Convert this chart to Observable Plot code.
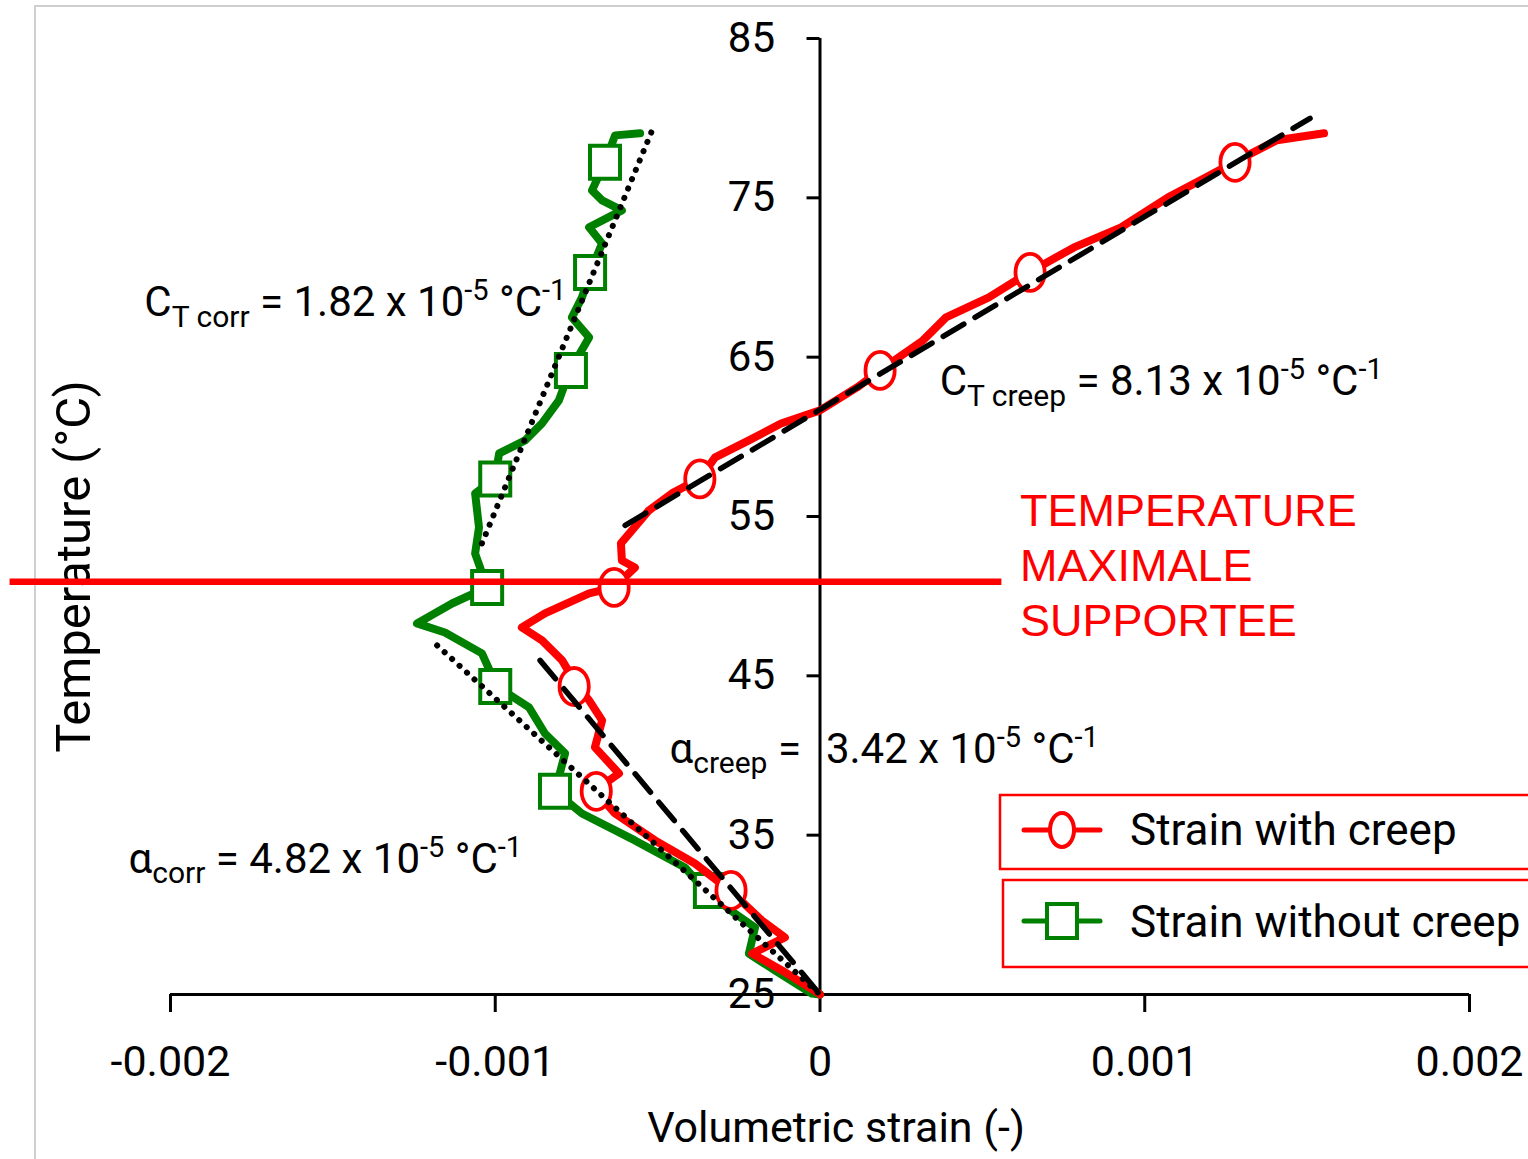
<!DOCTYPE html>
<html><head><meta charset="utf-8">
<script src="https://cdn.jsdelivr.net/npm/d3@7"></script>
<script src="https://cdn.jsdelivr.net/npm/@observablehq/plot@0.6"></script>
<style>
body{margin:0;background:#fff;}
#wrap{position:relative;width:1528px;height:1159px;overflow:hidden;}
#frame{position:absolute;left:34px;top:5px;width:1600px;height:1300px;border-left:2px solid #cfcfcf;border-top:2px solid #cfcfcf;}
#wrap svg{position:absolute;left:0;top:0;}
</style></head><body><div id="wrap"><div id="frame"></div></div>
<script>
const FONT = "Roboto, 'DejaVu Sans Condensed', sans-serif";
const RED = "#ff0000", GREEN = "#008000";

// axes
const xTicks = [-0.002, -0.001, 0, 0.001, 0.002];
const xTickLabels = ["-0.002", "-0.001", "0", "0.001", "0.002"];
const yTicks = [25, 35, 45, 55, 65, 75, 85];
const xTitle = "Volumetric strain (-)";
const yTitle = "Temperature (°C)";
const seriesNames = ["Strain with creep", "Strain without creep"];

// Strain without creep (green)
const greenStrain = [0, -0.000025, -0.000139, -0.000219, -0.000200, -0.000262, -0.000354, -0.000416, -0.000570, -0.000733,
  -0.000816, -0.000785, -0.000847, -0.000896, -0.000995, -0.001041, -0.001155, -0.001241, -0.001133, -0.001025,
  -0.001062, -0.001050, -0.001062, -0.001001, -0.000988, -0.000908, -0.000856, -0.000804, -0.000770, -0.000711,
  -0.000764, -0.000733, -0.000708, -0.000671, -0.000711, -0.000610, -0.000671, -0.000702, -0.000662, -0.000631, -0.000554];
const greenTemp = [25, 25.06, 26.51, 27.57, 29.21, 30.08, 31.53, 32.97, 34.67, 36.36,
  37.75, 40.13, 41.38, 43.02, 44.33, 46.41, 47.72, 48.29, 49.54, 50.55,
  52.68, 54.32, 56.45, 57.39, 58.96, 59.78, 60.84, 62.29, 64.17, 66.24,
  67.50, 68.75, 70.32, 72.14, 73.15, 74.21, 74.84, 75.47, 77.23, 78.92, 79.05];

// Strain with creep (red)
const redStrain = [0, -0.000003, -0.000117, -0.000209, -0.000108, -0.000179, -0.000277, -0.000385, -0.000508, -0.000631,
  -0.000693, -0.000619, -0.000693, -0.000671, -0.000711, -0.000754, -0.000794, -0.000856, -0.000918, -0.000847,
  -0.000711, -0.000634, -0.000570, -0.000610, -0.000613, -0.000527, -0.000456, -0.000370, -0.000323, -0.000219,
  -0.000120, 0.000000, 0.000114, 0.000185, 0.000317, 0.000388, 0.000520, 0.000644, 0.000782, 0.000927,
  0.001072, 0.001189, 0.001275, 0.001407, 0.001552];
const redTemp = [25, 25.06, 26.51, 27.57, 28.58, 29.65, 31.53, 33.22, 34.67, 36.36,
  37.81, 38.87, 40.51, 42.20, 43.46, 44.59, 45.97, 47.22, 48.04, 48.92,
  50.17, 50.55, 51.80, 52.24, 53.31, 55.38, 56.45, 57.39, 58.71, 59.78,
  60.84, 61.66, 63.10, 64.17, 66.05, 67.50, 68.75, 70.32, 71.89, 73.15,
  75.03, 76.29, 77.23, 78.61, 79.05];

// markers
const markerTemp = [31.53, 37.75, 44.33, 50.55, 57.36, 64.17, 70.32, 77.23];
const redMarkerStrain = [-0.000274, -0.000689, -0.000757, -0.000634, -0.000370, 0.000185, 0.000647, 0.001278];
const greenMarkerStrain = [-0.000339, -0.000816, -0.001000, -0.001025, -0.001000, -0.000767, -0.000708, -0.000662];

// trend lines
const greenUpperTrendStrain = [-0.001041, -0.000508], greenUpperTrendTemp = [53.31, 79.68];
const greenLowerTrendStrain = [-0.001179, 0], greenLowerTrendTemp = [46.91, 25];
const redUpperTrendStrain = [-0.000600, 0.001509], redUpperTrendTemp = [54.44, 79.99];
const redLowerTrendStrain = [-0.000862, 0], redLowerTrendTemp = [45.97, 25];

// max temperature line
const maxTemp = 50.9;
const maxLineStrain = [-0.002494, 0.000560];
const maxLabel = "TEMPERATURE\nMAXIMALE\nSUPPORTEE";
const maxLabelStrain = 0.000616;

// annotation anchors
const annotStrain = [-0.002079, 0.000370, -0.000462, -0.002128];
const annotTemp = [67.56, 62.60, 39.50, 32.60];

const pts = (xs, ys) => xs.map((x, i) => ({x, y: ys[i]}));
const green = pts(greenStrain, greenTemp);
const red = pts(redStrain, redTemp);
const greenM = pts(greenMarkerStrain, markerTemp);
const redM = pts(redMarkerStrain, markerTemp);
const xLabelOf = new Map(xTicks.map((t, i) => [t, xTickLabels[i]]));

const K = 0.5522847498;
function ellipsePath(ctx, rx, ry) {
  ctx.moveTo(rx, 0);
  ctx.bezierCurveTo(rx, ry * K, rx * K, ry, 0, ry);
  ctx.bezierCurveTo(-rx * K, ry, -rx, ry * K, -rx, 0);
  ctx.bezierCurveTo(-rx, -ry * K, -rx * K, -ry, 0, -ry);
  ctx.bezierCurveTo(rx * K, -ry, rx, -ry * K, rx, 0);
  ctx.closePath();
}
const ellipseSymbol = {draw(ctx, size) { const r = Math.sqrt(size / Math.PI); ellipsePath(ctx, r * 0.79, r); }};
const rectSymbol = {draw(ctx, size) { const r = Math.sqrt(size / Math.PI); const hx = r * 0.91, hy = r;
  ctx.moveTo(-hx, -hy); ctx.lineTo(hx, -hy); ctx.lineTo(hx, hy); ctx.lineTo(-hx, hy); ctx.closePath(); }};

const plot = Plot.plot({
  width: 1528, height: 1159,
  marginLeft: 170, marginRight: 59, marginTop: 38, marginBottom: 165,
  x: {domain: [-0.002, 0.002], axis: null},
  y: {domain: [25, 85], axis: null},
  style: {fontFamily: FONT, background: "transparent", overflow: "visible", color: "black"},
  marks: [
    Plot.text(yTicks, {x: () => 0, y: d => d, text: d => String(d), dx: -45, textAnchor: "end", fontSize: 42, fill: "black"}),
    Plot.axisX(xTicks, {tickSize: 18, tickPadding: 33, fontSize: 43, strokeWidth: 3, stroke: "black", fill: "black", tickFormat: d => xLabelOf.get(d), label: null}),
    Plot.ruleY([25], {stroke: "black", strokeWidth: 3}),
    Plot.ruleX([0], {y1: 25, y2: 85, stroke: "black", strokeWidth: 3}),
    Plot.ruleY(yTicks, {x1: () => -0.00004, x2: () => 0, stroke: "black", strokeWidth: 3}),
    Plot.text([xTitle], {frameAnchor: "bottom", lineAnchor: "middle", dx: 16, dy: 134, fontSize: 43, fill: "black"}),
    Plot.text([yTitle], {frameAnchor: "left", textAnchor: "middle", lineAnchor: "middle", rotate: -90, dx: -96, dy: 50, fontSize: 49, fill: "black"}),

    Plot.line(green, {x: "x", y: "y", stroke: GREEN, strokeWidth: 8, strokeLinejoin: "round"}),
    Plot.dot(greenM, {x: "x", y: "y", symbol: rectSymbol, r: 16.5, stroke: GREEN, strokeWidth: 4, fill: "white"}),
    Plot.line(red, {x: "x", y: "y", stroke: RED, strokeWidth: 8, strokeLinejoin: "round"}),
    Plot.dot(redM, {x: "x", y: "y", symbol: ellipseSymbol, r: 18.5, stroke: RED, strokeWidth: 3.8, fill: "white"}),

    Plot.line(pts(greenUpperTrendStrain, greenUpperTrendTemp), {x: "x", y: "y", stroke: "black", strokeWidth: 6, strokeDasharray: "0.1,10", strokeLinecap: "round"}),
    Plot.line(pts(greenLowerTrendStrain, greenLowerTrendTemp), {x: "x", y: "y", stroke: "black", strokeWidth: 6, strokeDasharray: "0.1,10", strokeLinecap: "round"}),
    Plot.line(pts(redUpperTrendStrain, redUpperTrendTemp), {x: "x", y: "y", stroke: "black", strokeWidth: 5.5, strokeDasharray: "24,13"}),
    Plot.line(pts(redLowerTrendStrain, redLowerTrendTemp), {x: "x", y: "y", stroke: "black", strokeWidth: 5.5, strokeDasharray: "24,13"}),

    Plot.ruleY([maxTemp], {x1: () => maxLineStrain[0], x2: () => maxLineStrain[1], stroke: RED, strokeWidth: 6.5}),
    Plot.text([maxLabel], {x: () => maxLabelStrain, y: () => maxTemp, dy: -18, textAnchor: "start", lineHeight: 1.22, fontSize: 45, fill: RED, fontFamily: "'Liberation Sans', Arial, sans-serif"})
  ]
});
document.getElementById("wrap").appendChild(plot);

const X = plot.scale("x"), Y = plot.scale("y");
const svg = d3.select(plot);
function rich(xv, yv, parts) {
  const t = svg.append("text").attr("x", X.apply(xv)).attr("y", Y.apply(yv)).attr("text-anchor", "start")
    .attr("font-family", FONT).attr("fill", "black").attr("xml:space", "preserve").style("white-space", "pre");
  let shift = 0;
  for (const [s, size, sh, dx] of parts) {
    t.append("tspan").attr("font-size", size).attr("dy", sh - shift).attr("dx", dx || 0).text(s);
    shift = sh;
  }
}
const SUB = 30, SUP = 29, MAIN = 42;
rich(annotStrain[0], annotTemp[0], [["C", MAIN, 0], ["T corr", SUB, 11], [" = 1.82 x 10", MAIN, 0], ["-5", SUP, -16], [" °C", MAIN, 0], ["-1", SUP, -16]]);
rich(annotStrain[1], annotTemp[1], [["C", MAIN, 0], ["T creep", SUB, 11], [" = 8.13 x 10", MAIN, 0], ["-5", SUP, -16], [" °C", MAIN, 0], ["-1", SUP, -16]]);
rich(annotStrain[2], annotTemp[2], [["α", MAIN, 0], ["creep", SUB, 10], [" =", MAIN, 0], ["3.42 x 10", MAIN, 0, 25], ["-5", SUP, -16], [" °C", MAIN, 0], ["-1", SUP, -16]]);
rich(annotStrain[3], annotTemp[3], [["α", MAIN, 0], ["corr", SUB, 10], [" = 4.82 x 10", MAIN, 0], ["-5", SUP, -16], [" °C", MAIN, 0], ["-1", SUP, -16]]);

// legend
const lg = svg.append("g");
const legendRows = [
  {box: [1000, 795, 600, 74], cy: 830, ty: 845, color: RED, kind: "circle", name: seriesNames[0]},
  {box: [1003, 880, 600, 87], cy: 921, ty: 937, color: GREEN, kind: "square", name: seriesNames[1]}
];
for (const r of legendRows) {
  lg.append("rect").attr("x", r.box[0]).attr("y", r.box[1]).attr("width", r.box[2]).attr("height", r.box[3])
    .attr("fill", "white").attr("stroke", RED).attr("stroke-width", 2.5);
  lg.append("line").attr("x1", 1024).attr("x2", 1100).attr("y1", r.cy).attr("y2", r.cy)
    .attr("stroke", r.color).attr("stroke-width", 5).attr("stroke-linecap", "round");
  if (r.kind === "circle") {
    const p = d3.path(); ellipsePath(p, 12, 17);
    lg.append("path").attr("d", p.toString()).attr("transform", `translate(1062,${r.cy})`)
      .attr("fill", "white").attr("stroke", r.color).attr("stroke-width", 4);
  } else {
    lg.append("rect").attr("x", 1047).attr("y", r.cy - 17).attr("width", 30).attr("height", 34)
      .attr("fill", "white").attr("stroke", r.color).attr("stroke-width", 4);
  }
  lg.append("text").attr("x", 1130).attr("y", r.ty).attr("text-anchor", "start").attr("font-family", FONT).attr("font-size", 44)
    .attr("fill", "black").text(r.name);
}
</script></body></html>
